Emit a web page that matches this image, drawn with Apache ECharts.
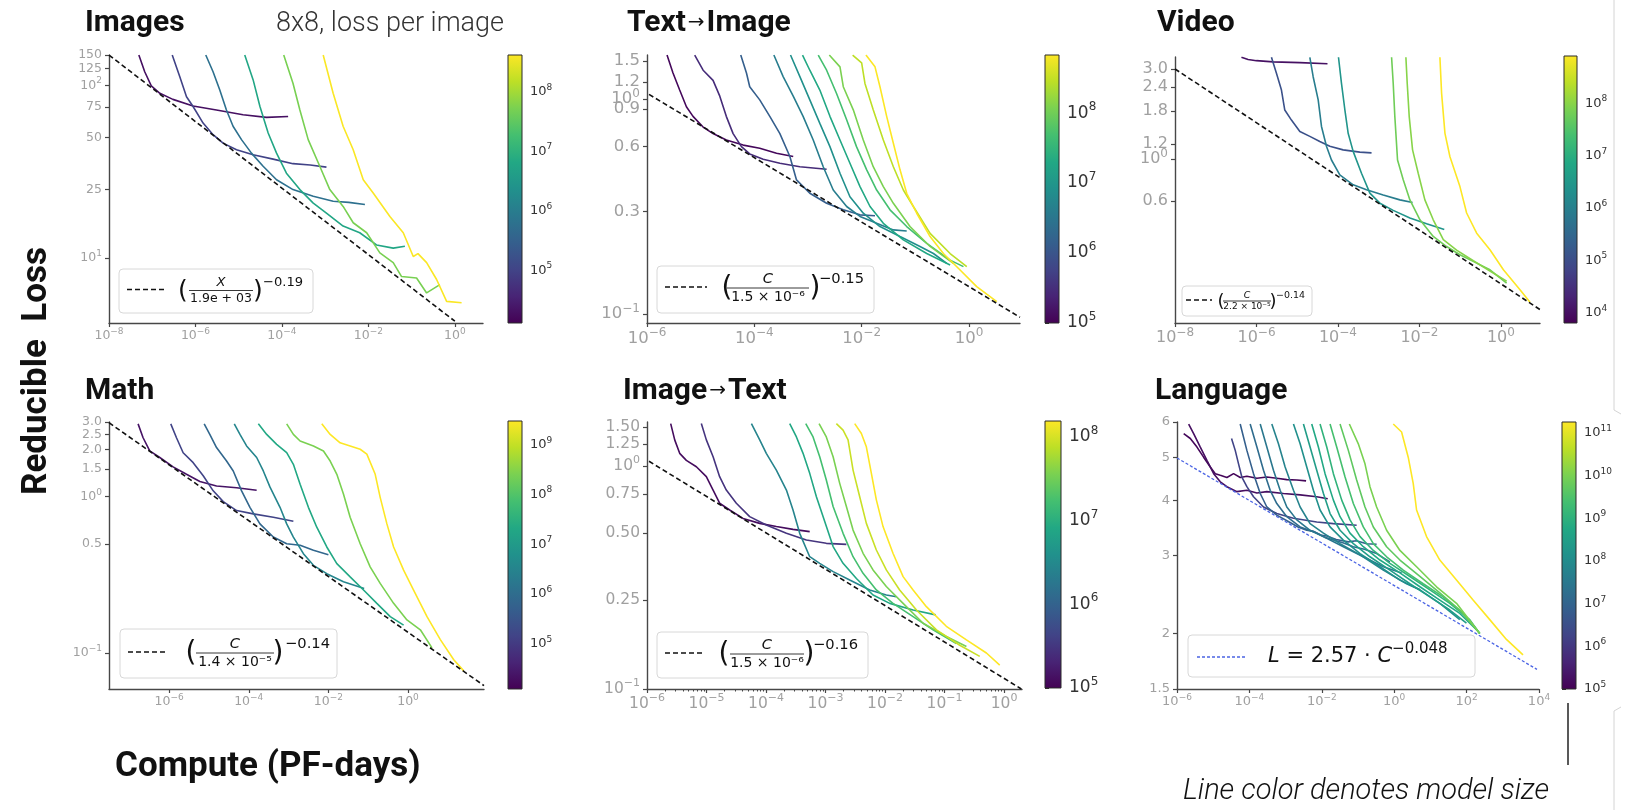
<!DOCTYPE html>
<html>
<head>
<meta charset="utf-8">
<title>Reducible loss vs compute</title>
<script src="https://cdn.jsdelivr.net/npm/echarts@6/dist/echarts.min.js"></script>
<style>
  html, body { margin: 0; padding: 0; background: #fff; }
  #chart { width: 1637px; height: 810px; }
</style>
</head>
<body>
<div id="chart"></div>
<script>
// every run is a list of [compute (PF-days), reducible loss]; sizes are parameter counts

// ---- Images ----
const imagesSizes = [2e4, 1e5, 6e5, 6e6, 5e7, 4e8];
const imagesRuns = [
  [[4.9e-8,150],[6.7e-8,120],[9.5e-8,99.5],[1.5e-7,90],[3.0e-7,83],[8.8e-7,76],[3.05e-6,72],[1.26e-5,67.6],[4.4e-5,65.3],[1.39e-4,66]],
  [[2.9e-7,150],[4.3e-7,113],[6.2e-7,86],[8.8e-7,75.5],[1.5e-6,60.5],[2.55e-6,51.8],[4.35e-6,46.3],[8.9e-6,42.4],[2.15e-5,39.6],[6.25e-5,37.4],[1.8e-4,35.2],[4.5e-4,34.6],[1.07e-3,33.6]],
  [[1.73e-6,150],[2.55e-6,120],[3.65e-6,94],[5.2e-6,72],[7.4e-6,58],[1.16e-5,48.5],[1.97e-5,40.5],[3.67e-5,34],[7.5e-5,28.4],[1.8e-4,24.9],[5.3e-4,22.8],[1.53e-3,21.3],[3.5e-3,21.0],[8.3e-3,20.4]],
  [[1.38e-5,150],[2.15e-5,108],[3.1e-5,75.5],[4.8e-5,53],[7.5e-5,40.5],[1.27e-4,31],[2.6e-4,24.9],[5.3e-4,20.8],[1.07e-3,18.2],[2.6e-3,15.3],[6.3e-3,14.0],[1.54e-2,11.9],[3.75e-2,11.4],[6.98e-2,11.7]],
  [[1.1e-4,150],[1.8e-4,103],[2.6e-4,72],[4.05e-4,48.5],[7.5e-4,34],[1.28e-3,24.9],[2.6e-3,19.9],[4.45e-3,16.0],[9.1e-3,14.0],[1.84e-2,10.7],[3.75e-2,9.4],[5.85e-2,7.8],[0.13,7.65],[0.222,6.27],[0.45,7.0]],
  [[9.0e-4,150],[1.53e-3,90],[2.6e-3,58],[4.45e-3,42.4],[7.6e-3,28.4],[1.29e-2,23.8],[3.14e-2,17.4],[6.4e-2,14.0],[0.109,10.2],[0.14,10.6],[0.222,9.4],[0.378,7.5],[0.644,5.6],[1.43,5.5]]
];
const imagesFit = [[1e-8, 150], [1.0, 4.3]];
const imagesXTicks = [1e-8, 1e-6, 1e-4, 1e-2, 1];
const imagesYTicks = [150, 125, 100, 75, 50, 25, 10];
const imagesYLabels = ['150', '125', '10²', '75', '50', '25', '10¹'];
const imagesBar = [1.29e4, 4.17e8];
const imagesBarTicks = [1e5, 1e6, 1e7, 1e8];

// ---- Text -> Image ----
const t2iSizes = [1.2e5, 3e5, 1.4e6, 4e6, 8e6, 2e7, 4.8e7, 1.15e8, 2.8e8, 6.7e8];
const t2iRuns = [
  [[2.36e-6,1.6],[3.05e-6,1.32],[4.06e-6,1.10],[5.42e-6,0.92],[7.2e-6,0.83],[1.11e-5,0.74],[1.70e-5,0.69],[3.0e-5,0.644],[6.2e-5,0.61],[1.26e-4,0.59],[2.59e-4,0.559],[5.3e-4,0.54]],
  [[7.74e-6,1.6],[1.11e-5,1.36],[1.70e-5,1.22],[2.27e-5,1.03],[3.0e-5,0.83],[4.02e-5,0.69],[5.75e-5,0.60],[8.2e-5,0.555],[1.46e-4,0.524],[2.99e-4,0.502],[7.05e-4,0.484],[2.22e-3,0.471]],
  [[5.58e-5,1.6],[7.13e-5,1.32],[8.2e-5,1.14],[1.26e-4,0.99],[1.94e-4,0.83],[2.99e-4,0.69],[4.59e-4,0.54],[6.1e-4,0.42],[1.08e-3,0.364],[2.22e-3,0.327],[4.54e-3,0.305],[9.3e-3,0.289],[1.77e-2,0.286]],
  [[2.31e-4,1.6],[3.44e-4,1.27],[5.3e-4,1.03],[8.1e-4,0.83],[1.25e-3,0.644],[1.92e-3,0.484],[2.95e-3,0.377],[5.24e-3,0.316],[9.3e-3,0.284],[1.90e-2,0.264],[3.89e-2,0.246],[6.9e-2,0.243]],
  [[4.72e-4,1.6],[7.05e-4,1.27],[1.08e-3,0.99],[1.66e-3,0.77],[2.56e-3,0.60],[3.94e-3,0.451],[6.04e-3,0.351],[1.07e-2,0.294],[2.19e-2,0.255],[5.18e-2,0.229],[0.122,0.206],[0.217,0.191],[0.385,0.172]],
  [[7.9e-4,1.6],[1.08e-3,1.36],[1.66e-3,1.10],[2.56e-3,0.83],[3.94e-3,0.644],[6.04e-3,0.502],[9.3e-3,0.391],[1.43e-2,0.316],[2.53e-2,0.264],[5.97e-2,0.221],[0.163,0.191],[0.444,0.169]],
  [[1.55e-3,1.6],[2.22e-3,1.36],[3.40e-3,1.06],[5.24e-3,0.80],[8.0e-3,0.60],[1.24e-2,0.468],[1.90e-2,0.377],[3.37e-2,0.305],[6.9e-2,0.255],[0.163,0.213],[0.444,0.178],[0.787,0.166]],
  [[2.49e-3,1.6],[3.94e-3,1.41],[4.54e-3,1.14],[6.97e-3,0.89],[1.07e-2,0.644],[1.64e-2,0.484],[2.53e-2,0.391],[3.89e-2,0.327],[7.94e-2,0.255],[0.188,0.206],[0.512,0.172]],
  [[6.78e-3,1.6],[9.98e-3,1.47],[1.15e-2,1.18],[1.64e-2,0.89],[2.53e-2,0.644],[3.89e-2,0.484],[5.97e-2,0.377],[9.18e-2,0.316],[0.188,0.237],[0.444,0.191],[0.908,0.166]],
  [[1.20e-2,1.6],[1.77e-2,1.41],[2.19e-2,1.14],[2.92e-2,0.83],[3.89e-2,0.622],[5.18e-2,0.468],[6.9e-2,0.364],[0.106,0.294],[0.188,0.229],[0.333,0.191],[0.681,0.160],[1.39,0.134],[3.29,0.114]]
];
const t2iFit = [[1.09e-6, 1.05], [8.9, 0.0965]];
const t2iXTicks = [1e-6, 1e-4, 1e-2, 1];
const t2iYTicks = [1.5, 1.2, 1.0, 0.9, 0.6, 0.3, 0.1];
const t2iYLabels = ['1.5', '1.2', '10⁰', '0.9', '0.6', '0.3', '10⁻¹'];
const t2iBar = [1e5, 6.76e8];
const t2iBarTicks = [1e5, 1e6, 1e7, 1e8];

// ---- Video ----
const videoSizes = [1.1e4, 1.2e5, 9e5, 2.8e6, 6e7, 9.6e7, 8e8];
const videoRuns = [
  [[4.27e-7,3.46],[6.22e-7,3.37],[9.95e-7,3.32],[2.56e-6,3.27],[1.16e-5,3.24],[5.53e-5,3.20]],
  [[2.33e-6,3.46],[3.09e-6,2.85],[4.10e-6,2.32],[4.95e-6,1.82],[7.21e-6,1.61],[1.16e-5,1.40],[2.04e-5,1.32],[3.58e-5,1.24],[6.31e-5,1.17],[1.34e-4,1.12],[3.44e-4,1.09],[6.67e-4,1.08]],
  [[2.04e-5,3.46],[2.46e-5,2.73],[3.27e-5,2.06],[3.94e-5,1.49],[5.22e-5,1.17],[6.93e-5,0.99],[1.11e-4,0.826],[2.36e-4,0.732],[5.02e-4,0.689],[1.29e-3,0.647],[3.31e-3,0.609],[6.78e-3,0.590]],
  [[1.03e-4,3.46],[1.22e-4,2.52],[1.48e-4,1.82],[1.78e-4,1.37],[2.36e-4,1.10],[3.78e-4,0.843],[6.07e-4,0.661],[1.07e-3,0.585],[2.27e-3,0.536],[5.83e-3,0.488],[1.50e-2,0.455],[4.07e-2,0.424]],
  [[2.07e-3,3.46],[2.27e-3,2.52],[2.49e-3,1.68],[2.90e-3,0.99],[4.00e-3,0.778],[5.83e-3,0.609],[1.03e-2,0.478],[2.18e-2,0.390],[4.65e-2,0.345],[9.86e-2,0.312],[0.254,0.282],[0.538,0.260],[1.38,0.221]],
  [[4.65e-3,3.46],[5.01e-3,2.52],[5.61e-3,1.68],[6.78e-3,1.12],[9.33e-3,0.843],[1.36e-2,0.609],[2.18e-2,0.478],[3.85e-2,0.375],[8.17e-2,0.33],[0.210,0.29],[0.538,0.256],[1.38,0.226]],
  [[3.18e-2,3.46],[3.50e-2,2.23],[4.23e-2,1.37],[5.61e-2,1.03],[9.86e-2,0.716],[0.144,0.519],[0.254,0.406],[0.538,0.332],[1.15,0.260],[2.94,0.204],[5.18,0.175]]
];
const videoFit = [[1e-8, 3.0], [9.1, 0.16]];
const videoXTicks = [1e-8, 1e-6, 1e-4, 1e-2, 1];
const videoYTicks = [3.0, 2.4, 1.8, 1.2, 1.0, 0.6];
const videoYLabels = ['3.0', '2.4', '1.8', '1.2', '10⁰', '0.6'];
const videoBar = [6.46e3, 7.94e8];
const videoBarTicks = [1e4, 1e5, 1e6, 1e7, 1e8];

// ---- Math ----
const mathSizes = [2.3e4, 1.5e5, 7.4e5, 3.3e6, 2.1e7, 2.5e8, 3e9];
const mathRuns = [
  [[1.66e-7,2.92],[2.22e-7,2.38],[3.26e-7,1.96],[5.82e-7,1.78],[1.26e-6,1.55],[2.73e-6,1.39],[5.92e-6,1.25],[1.55e-5,1.17],[4.95e-5,1.14],[1.58e-4,1.10]],
  [[1.10e-6,2.92],[1.53e-6,2.38],[2.25e-6,1.91],[4.02e-6,1.65],[7.18e-6,1.36],[1.28e-5,1.09],[2.29e-5,0.93],[4.95e-5,0.815],[1.30e-4,0.776],[4.14e-4,0.739],[1.32e-3,0.697]],
  [[7.60e-6,2.92],[1.05e-5,2.50],[1.55e-5,2.06],[2.77e-5,1.69],[4.08e-5,1.46],[6.61e-5,1.09],[1.07e-4,0.855],[1.91e-4,0.670],[4.14e-4,0.552],[8.97e-4,0.500],[1.95e-3,0.489],[4.21e-3,0.454],[1.00e-2,0.426]],
  [[4.33e-5,2.92],[6.01e-5,2.50],[8.83e-5,2.11],[1.58e-4,1.78],[2.32e-4,1.46],[3.42e-4,1.15],[6.10e-4,0.855],[8.97e-4,0.670],[1.32e-3,0.552],[2.36e-3,0.432],[4.21e-3,0.364],[9.12e-3,0.322],[2.39e-2,0.286],[7.93e-2,0.259]],
  [[1.74e-4,2.92],[2.82e-4,2.50],[5.02e-4,2.16],[8.97e-4,1.91],[1.32e-3,1.61],[1.95e-3,1.20],[3.15e-3,0.855],[5.11e-3,0.638],[9.12e-3,0.477],[1.63e-2,0.373],[3.52e-2,0.307],[7.64e-2,0.253],[0.165,0.208],[0.358,0.171],[0.775,0.151]],
  [[8.97e-4,2.92],[1.32e-3,2.50],[1.95e-3,2.27],[4.21e-3,2.11],[7.52e-3,1.96],[1.11e-2,1.69],[1.63e-2,1.39],[2.39e-2,1.04],[3.52e-2,0.739],[6.29e-2,0.500],[0.112,0.356],[0.200,0.279],[0.435,0.208],[0.940,0.163],[2.04,0.141],[4.00,0.108]],
  [[6.82e-3,2.92],[1.11e-2,2.50],[1.97e-2,2.21],[3.52e-2,2.11],[6.29e-2,2.01],[9.25e-2,1.87],[0.150,1.39],[0.200,0.99],[0.295,0.670],[0.435,0.477],[0.775,0.339],[1.38,0.253],[3.00,0.171],[6.49,0.122],[14.1,0.0907],[25.1,0.077]]
];
const mathFit = [[3.09e-8, 2.97], [81, 0.062]];
const mathXTicks = [1e-6, 1e-4, 1e-2, 1];
const mathYTicks = [3.0, 2.5, 2.0, 1.5, 1.0, 0.5, 0.1];
const mathYLabels = ['3.0', '2.5', '2.0', '1.5', '10⁰', '0.5', '10⁻¹'];
const mathBar = [1.23e4, 3.02e9];
const mathBarTicks = [1e5, 1e6, 1e7, 1e8, 1e9];

// ---- Image -> Text ----
const i2tSizes = [1.25e5, 3e5, 2.7e6, 8e6, 1.7e7, 3.5e7, 8.5e7, 1.55e8];
const i2tRuns = [
  [[2.50e-6,1.55],[2.92e-6,1.31],[3.54e-6,1.14],[4.58e-6,1.06],[6.75e-6,0.993],[9.93e-6,0.896],[1.29e-5,0.780],[1.66e-5,0.681],[2.45e-5,0.635],[4.10e-5,0.582],[7.83e-5,0.553],[1.49e-4,0.535],[2.84e-4,0.520],[5.42e-4,0.508]],
  [[8.18e-6,1.55],[9.93e-6,1.31],[1.29e-5,1.10],[1.66e-5,0.896],[2.15e-5,0.780],[3.17e-5,0.681],[5.31e-5,0.593],[1.01e-4,0.544],[2.20e-4,0.499],[4.76e-4,0.466],[1.03e-3,0.450],[2.24e-3,0.445]],
  [[5.68e-5,1.55],[7.83e-5,1.31],[1.01e-4,1.14],[1.49e-4,0.959],[2.20e-4,0.780],[2.84e-4,0.635],[3.68e-4,0.499],[5.42e-4,0.392],[7.98e-4,0.366],[1.34e-3,0.336],[2.55e-3,0.308],[5.52e-3,0.278],[1.05e-2,0.264],[1.55e-2,0.259]],
  [[2.50e-4,1.55],[3.24e-4,1.35],[4.19e-4,1.14],[5.42e-4,0.927],[7.02e-4,0.728],[9.08e-4,0.593],[1.34e-3,0.435],[1.97e-3,0.366],[3.30e-3,0.313],[6.28e-3,0.264],[1.20e-2,0.242],[2.96e-2,0.226],[7.11e-2,0.215]],
  [[4.65e-4,1.55],[6.17e-4,1.35],[7.98e-4,1.10],[1.03e-3,0.865],[1.34e-3,0.658],[1.97e-3,0.499],[2.90e-3,0.392],[4.27e-3,0.330],[7.14e-3,0.278],[1.36e-2,0.242],[2.96e-2,0.211],[6.41e-2,0.184],[0.158,0.160]],
  [[7.78e-4,1.55],[1.03e-3,1.35],[1.34e-3,1.10],[1.73e-3,0.836],[2.24e-3,0.658],[2.90e-3,0.516],[4.27e-3,0.406],[6.28e-3,0.342],[1.05e-2,0.288],[2.01e-2,0.242],[4.36e-2,0.197],[0.107,0.172],[0.233,0.155]],
  [[1.52e-3,1.55],[1.97e-3,1.45],[2.39e-3,1.31],[2.90e-3,0.959],[3.75e-3,0.728],[4.85e-3,0.553],[7.14e-3,0.420],[1.05e-2,0.342],[1.76e-2,0.278],[3.37e-2,0.226],[7.30e-2,0.184],[0.180,0.157],[0.390,0.140]],
  [[3.09e-3,1.55],[4.00e-3,1.40],[4.85e-3,1.22],[5.89e-3,0.927],[7.14e-3,0.705],[9.25e-3,0.535],[1.36e-2,0.406],[2.01e-2,0.319],[2.96e-2,0.278],[4.95e-2,0.234],[0.107,0.191],[0.233,0.166],[0.505,0.145],[0.845,0.128]]
];
const i2tFit = [[1.08e-6, 1.05], [1.95, 0.1]];
const i2tXTicks = [1e-6, 1e-5, 1e-4, 1e-3, 1e-2, 1e-1, 1];
const i2tYTicks = [1.5, 1.25, 1.0, 0.75, 0.5, 0.25, 0.1];
const i2tYLabels = ['1.50', '1.25', '10⁰', '0.75', '0.50', '0.25', '10⁻¹'];
const i2tBar = [1e5, 1.55e8];
const i2tBarTicks = [1e5, 1e6, 1e7, 1e8];

// ---- Language ----
const langSizes = [1.3e5, 1.8e5, 1.8e6, 8e6, 1.6e7, 3e7, 6e7, 1.3e8, 2.8e8, 5.6e8, 1.1e9, 2.5e9, 5e9, 1e10, 1.8e11];
const langRuns = [
  [[1.53e-6,5.65],[2.33e-6,5.51],[3.56e-6,5.27],[5.43e-6,5.00],[8.30e-6,4.75],[1.14e-5,4.59],[1.57e-5,4.55],[2.39e-5,4.50],[3.65e-5,4.59],[5.57e-5,4.50],[8.51e-5,4.53],[1.61e-4,4.48],[3.03e-4,4.51],[5.71e-4,4.48],[1.08e-3,4.45],[2.04e-3,4.44],[3.68e-3,4.42]],
  [[2.10e-6,5.94],[2.88e-6,5.65],[4.40e-6,5.27],[6.71e-6,4.92],[1.03e-5,4.59],[1.57e-5,4.40],[2.39e-5,4.29],[4.51e-5,4.18],[8.51e-5,4.21],[1.61e-4,4.15],[3.03e-4,4.18],[8.73e-4,4.14],[2.52e-3,4.11],[7.24e-3,4.07],[1.46e-2,4.03]],
  [[3.21e-5,5.51],[4.06e-5,5.18],[5.01e-5,4.83],[6.19e-5,4.51],[8.51e-5,4.29],[1.30e-4,4.07],[2.45e-4,3.86],[5.71e-4,3.73],[1.65e-3,3.64],[7.24e-3,3.57],[2.09e-2,3.54],[9.18e-2,3.51]],
  [[5.57e-5,5.94],[8.51e-5,5.18],[1.30e-4,4.59],[1.99e-4,4.14],[3.03e-4,3.86],[5.71e-4,3.70],[1.33e-3,3.56],[2.2e-3,3.48],[3.84e-3,3.42],[6.0e-3,3.40],[1.0e-2,3.33],[1.37e-2,3.32],[2.5e-2,3.26],[5.41e-2,3.22],[9.0e-2,3.24],[0.173,3.19],[0.327,3.18]],
  [[1.05e-4,5.94],[1.61e-4,5.27],[2.45e-4,4.67],[3.75e-4,4.21],[5.71e-4,3.93],[1.08e-3,3.67],[2.52e-3,3.48],[4.5e-3,3.42],[7.24e-3,3.37],[1.2e-2,3.30],[2.09e-2,3.25],[4.0e-2,3.20],[7.43e-2,3.14],[0.15,3.10],[0.327,3.03],[0.762,2.90]],
  [[1.99e-4,5.94],[3.03e-4,5.27],[4.62e-4,4.67],[7.06e-4,4.21],[1.08e-3,3.86],[2.04e-3,3.61],[4.74e-3,3.42],[1.37e-2,3.28],[3.94e-2,3.14],[0.140,2.98],[0.500,2.83],[1.60,2.74]],
  [[4.16e-4,5.94],[6.35e-4,5.36],[9.70e-4,4.75],[1.65e-3,4.21],[2.52e-3,3.86],[4.74e-3,3.54],[1.11e-2,3.37],[3.19e-2,3.19],[0.114,3.01],[0.500,2.78],[2.20,2.59],[5.13,2.51]],
  [[1.65e-3,5.94],[2.52e-3,5.36],[3.84e-3,4.75],[5.86e-3,4.21],[8.95e-3,3.80],[1.69e-2,3.48],[3.94e-2,3.25],[0.114,3.03],[0.404,2.83],[1.44,2.64],[5.13,2.51],[18.2,2.34],[64.9,2.15]],
  [[3.11e-3,5.94],[4.74e-3,5.27],[7.24e-3,4.67],[1.11e-2,4.14],[1.69e-2,3.73],[3.19e-2,3.42],[7.43e-2,3.19],[0.214,2.98],[0.762,2.78],[2.72,2.59],[9.66,2.42],[34.4,2.26],[99.1,2.11]],
  [[5.27e-3,5.94],[8.05e-3,5.27],[1.23e-2,4.59],[2.09e-2,4.00],[3.19e-2,3.67],[6.01e-2,3.37],[0.140,3.14],[0.404,2.93],[1.44,2.74],[5.13,2.55],[18.2,2.38],[64.9,2.22],[187,2.04]],
  [[8.95e-3,5.94],[1.37e-2,5.27],[2.09e-2,4.59],[3.55e-2,4.00],[6.01e-2,3.61],[0.114,3.31],[0.265,3.08],[0.762,2.88],[2.72,2.69],[9.66,2.51],[34.4,2.34],[122,2.15],[231,2.00]],
  [[1.69e-2,5.94],[2.58e-2,5.27],[4.39e-2,4.51],[7.43e-2,3.93],[0.140,3.48],[0.265,3.19],[0.617,2.98],[1.78,2.78],[6.32,2.59],[22.5,2.42],[80.2,2.22],[231,2.00]],
  [[3.19e-2,5.94],[5.41e-2,5.18],[9.18e-2,4.44],[0.156,3.86],[0.265,3.48],[0.617,3.14],[1.44,2.93],[5.13,2.69],[18.2,2.47],[64.9,2.26],[231,2.00]],
  [[5.77e-2,5.94],[0.102,5.36],[0.156,4.83],[0.214,4.29],[0.327,3.86],[0.617,3.42],[1.44,3.08],[4.15,2.83],[14.8,2.55],[52.6,2.34],[231,2.00]],
  [[0.942,5.94],[1.60,5.70],[2.44,5.00],[3.36,4.36],[4.15,3.80],[7.82,3.31],[18.2,2.93],[52.6,2.64],[151,2.38],[436,2.15],[1260,1.94],[3620,1.79]]
];
const langFit = [[1e-6, 4.98], [8810, 1.66]];
const langXTicks = [1e-6, 1e-4, 1e-2, 1, 1e2, 1e4];
const langYTicks = [6, 5, 4, 3, 2, 1.5];
const langYLabels = ['6', '5', '4', '3', '2', '1.5'];
const langBar = [1e5, 1.82e11];
const langBarTicks = [1e5, 1e6, 1e7, 1e8, 1e9, 1e10, 1e11];

// ---- helpers ----
const viridisStops = ['#440154','#482475','#414487','#355f8d','#2a788e','#21918c','#22a884','#44bf70','#7ad151','#bddf26','#fde725'];
const SUP = { '-': '⁻', '0': '⁰', '1': '¹', '2': '²', '3': '³', '4': '⁴', '5': '⁵', '6': '⁶', '7': '⁷', '8': '⁸', '9': '⁹' };
const UNSUP = {};
Object.keys(SUP).forEach(k => { UNSUP[SUP[k]] = k === '-' ? '−' : k; });

function pow10Label(v) {
  const e = Math.round(Math.log10(v));
  return '10' + String(e).split('').map(c => SUP[c]).join('');
}
// '10⁻⁴' -> rich text with a raised, smaller exponent
function richLabel(s) {
  const m = s.match(/^10([⁻⁰¹²³⁴⁵⁶⁷⁸⁹]+)$/);
  if (!m) return '{b|' + s + '}';
  return '{b|10}{s|' + m[1].split('').map(c => UNSUP[c]).join('') + '}';
}
function richStyles(fontSize, color) {
  return {
    b: { fontSize, fontFamily: 'DejaVu Sans', color, lineHeight: Math.round(fontSize * 1.4) },
    s: { fontSize: Math.round(fontSize * 0.72), fontFamily: 'DejaVu Sans', color, lineHeight: Math.round(fontSize * 0.7), verticalAlign: 'top' }
  };
}
function nearest(ticks, v) {
  let best = 0, d = Infinity;
  ticks.forEach((t, i) => {
    const e = Math.abs(Math.log10(t) - Math.log10(v));
    if (e < d) { d = e; best = i; }
  });
  return best;
}
function hexRgb(h) { return [1, 3, 5].map(i => parseInt(h.substr(i, 2), 16)); }
function viridis(f) {
  f = Math.max(0, Math.min(1, f));
  const s = f * (viridisStops.length - 1), i = Math.min(Math.floor(s), viridisStops.length - 2), t = s - i;
  const a = hexRgb(viridisStops[i]), b = hexRgb(viridisStops[i + 1]);
  return 'rgb(' + a.map((c, k) => Math.round(c + (b[k] - c) * t)).join(',') + ')';
}
function sizeColor(size, bar) {
  return viridis((Math.log10(size) - Math.log10(bar[0])) / (Math.log10(bar[1]) - Math.log10(bar[0])));
}
function pad(r) { return [r[0] * 0.9995, r[1] * 1.0005]; }
function minorValues(r) {
  const out = [];
  for (let k = Math.floor(Math.log10(r[0])); k <= Math.ceil(Math.log10(r[1])); k++) {
    for (let m = 2; m <= 9; m++) {
      const v = m * Math.pow(10, k);
      if (v > r[0] && v < r[1]) out.push(v);
    }
  }
  return out;
}

// ticks: where tick marks go; labelTicks/labels: which of them carry text
function logAxis(dim, gridIndex, range, ticks, labelTicks, labels, fontSize, showLine) {
  const r = pad(range);
  const lineOn = showLine !== false;
  return {
    type: 'log', logBase: 10, gridIndex, min: r[0], max: r[1],
    position: dim === 'x' ? 'bottom' : 'left',
    axisLine: { show: lineOn, lineStyle: { color: '#474747', width: 1.4 } },
    axisTick: { show: lineOn, customValues: ticks, length: 4, lineStyle: { color: '#474747', width: 1.2 } },
    axisLabel: {
      show: true, customValues: labelTicks, formatter: v => richLabel(labels[nearest(labelTicks, v)]),
      rich: richStyles(fontSize, '#a0a0a0'), color: '#a0a0a0',
      showMinLabel: true, showMaxLabel: true, hideOverlap: false,
      margin: dim === 'x' ? 4 : 7
    },
    splitLine: { show: false }
  };
}
function minorAxis(dim, gridIndex, range) {
  const r = pad(range);
  return {
    type: 'log', logBase: 10, gridIndex, min: r[0], max: r[1],
    position: dim === 'x' ? 'bottom' : 'right',
    axisLine: { show: false },
    axisTick: { show: true, customValues: minorValues(range), length: 2.5, lineStyle: { color: '#474747', width: 1 } },
    axisLabel: { show: false },
    splitLine: { show: false }
  };
}
function barAxis(gridIndex, range, ticks, fontSize) {
  const r = pad(range);
  return {
    type: 'log', logBase: 10, gridIndex, min: r[0], max: r[1], position: 'right',
    axisLine: { show: false },
    axisTick: { show: true, customValues: ticks, length: 4, lineStyle: { color: '#333', width: 1 } },
    axisLabel: {
      show: true, customValues: ticks, formatter: v => richLabel(pow10Label(v)),
      rich: richStyles(fontSize, '#333'), color: '#333',
      showMinLabel: true, showMaxLabel: true, hideOverlap: false, margin: 8
    },
    splitLine: { show: false }
  };
}

const blackDash = { color: '#111', width: 1.6, type: [5, 3] };
const panels = [
  { runs: imagesRuns, sizes: imagesSizes, fit: imagesFit, fitStyle: blackDash,
    xRange: [1e-8, 4.47], yRange: [4.2, 150], xTicks: imagesXTicks, yTicks: imagesYTicks, yLabels: imagesYLabels,
    bar: imagesBar, barTicks: imagesBarTicks, font: 12.5, cbFont: 13,
    grid: { left: 109, top: 55, width: 374, height: 268 }, cbar: { left: 508, top: 55, width: 14, height: 268 } },
  { runs: t2iRuns, sizes: t2iSizes, fit: t2iFit, fitStyle: blackDash,
    xRange: [1e-6, 8.9], yRange: [0.0908, 1.6], xTicks: t2iXTicks, yTicks: t2iYTicks, yLabels: t2iYLabels,
    bar: t2iBar, barTicks: t2iBarTicks, font: 16.5, cbFont: 17,
    grid: { left: 647, top: 55, width: 373, height: 268 }, cbar: { left: 1045, top: 55, width: 14, height: 268 } },
  { runs: videoRuns, sizes: videoSizes, fit: videoFit, fitStyle: blackDash,
    xRange: [1e-8, 9.1], yRange: [0.136, 3.47], xTicks: videoXTicks, yTicks: videoYTicks, yLabels: videoYLabels,
    bar: videoBar, barTicks: videoBarTicks, font: 16, cbFont: 13,
    grid: { left: 1175, top: 57, width: 365, height: 266 }, cbar: { left: 1564, top: 56, width: 13, height: 267 } },
  { runs: mathRuns, sizes: mathSizes, fit: mathFit, fitStyle: blackDash, yTwin: [3.0],
    xRange: [3.09e-8, 81], yRange: [0.059, 3.0], xTicks: mathXTicks, yTicks: mathYTicks, yLabels: mathYLabels,
    bar: mathBar, barTicks: mathBarTicks, font: 12.5, cbFont: 13,
    grid: { left: 109, top: 422, width: 375, height: 267 }, cbar: { left: 508, top: 421, width: 14, height: 268 } },
  { runs: i2tRuns, sizes: i2tSizes, fit: i2tFit, fitStyle: blackDash, xMinor: true,
    xRange: [1e-6, 2.0], yRange: [0.1, 1.575], xTicks: i2tXTicks, yTicks: i2tYTicks, yLabels: i2tYLabels,
    bar: i2tBar, barTicks: i2tBarTicks, font: 15.5, cbFont: 17,
    grid: { left: 647, top: 422, width: 375, height: 267 }, cbar: { left: 1045, top: 421, width: 16, height: 267 } },
  { runs: langRuns, sizes: langSizes, fit: langFit, fitStyle: { color: '#4b64e4', width: 1.3, type: [3, 2] },
    xRange: [1e-6, 1e4], yRange: [1.5, 6], xTicks: langXTicks, yTicks: langYTicks, yLabels: langYLabels,
    bar: langBar, barTicks: langBarTicks, font: 13, cbFont: 13,
    grid: { left: 1177, top: 422, width: 362, height: 267 }, cbar: { left: 1562, top: 422, width: 14, height: 267 } }
];

const grids = [], xAxes = [], yAxes = [], series = [];
const barGradient = () => new echarts.graphic.LinearGradient(0, 1, 0, 0,
  viridisStops.map((c, i) => ({ offset: i / (viridisStops.length - 1), color: c })));

panels.forEach(p => {
  const gi = grids.length;
  const twin = p.yTwin || [];
  const isTwin = v => twin.some(t => Math.abs(t - v) < 1e-9);
  const mainY = p.yTicks.filter(v => !isTwin(v));
  const mainYLabels = p.yLabels.filter((s, i) => !isTwin(p.yTicks[i]));
  grids.push(p.grid);
  xAxes.push(logAxis('x', gi, p.xRange, p.xTicks, p.xTicks, p.xTicks.map(pow10Label), p.font));
  yAxes.push(logAxis('y', gi, p.yRange, p.yTicks, mainY, mainYLabels, p.font));
  p.runs.forEach((run, k) => series.push({
    type: 'line', xAxisIndex: gi, yAxisIndex: gi, data: run, symbol: 'none', silent: true, z: 2,
    lineStyle: { color: sizeColor(p.sizes[k], p.bar), width: 1.6 }
  }));
  series.push({
    type: 'line', xAxisIndex: gi, yAxisIndex: gi, data: p.fit, symbol: 'none', silent: true, z: 3,
    lineStyle: p.fitStyle
  });

  // labels that sit too close to a neighbour go on a twin axis so none get dropped
  if (twin.length) {
    const ti = grids.length;
    grids.push(p.grid);
    xAxes.push({ type: 'value', gridIndex: ti, show: false });
    yAxes.push(logAxis('y', ti, p.yRange, twin, twin, p.yLabels.filter((s, i) => isTwin(p.yTicks[i])), p.font, false));
  }

  if (p.xMinor) {
    const mi = grids.length;
    grids.push(p.grid);
    xAxes.push(minorAxis('x', mi, p.xRange));
    yAxes.push({ type: 'value', gridIndex: mi, show: false });
  }

  // colour bar: one rect spanning the size range on a log axis
  const ci = grids.length;
  grids.push(p.cbar);
  xAxes.push({ type: 'value', gridIndex: ci, min: 0, max: 1, show: false });
  yAxes.push(barAxis(ci, p.bar, p.barTicks, p.cbFont));
  series.push({
    type: 'custom', xAxisIndex: ci, yAxisIndex: ci, silent: true,
    data: [[0, p.bar[0], p.bar[1]]], encode: { x: 0, y: [1, 2] },
    renderItem: (params, api) => {
      const lo = api.coord([0, api.value(1)]);
      const hi = api.coord([1, api.value(2)]);
      return {
        type: 'rect',
        shape: { x: lo[0], y: hi[1], width: hi[0] - lo[0], height: lo[1] - hi[1] },
        style: { fill: barGradient(), stroke: '#2b2b2b', lineWidth: 1 }
      };
    }
  });
  const cm = grids.length;
  grids.push(p.cbar);
  xAxes.push({ type: 'value', gridIndex: cm, min: 0, max: 1, show: false });
  yAxes.push(minorAxis('y', cm, p.bar));
});

// ---- text, legends ----
const FONT = '"DejaVu Sans"';
function txt(text, x, y, font, align, extra) {
  return Object.assign({
    type: 'text', x, y, z: 100, silent: true,
    style: { text, font, fill: '#111', align: align || 'left', verticalAlign: 'middle' }
  }, extra || {});
}
function arrowTitle(text, x, y) {
  return {
    type: 'text', x, y, z: 100, silent: true,
    style: {
      text, font: 'bold 30px Roboto, sans-serif', fill: '#111', verticalAlign: 'middle',
      rich: {
        w: { fontSize: 30, fontWeight: 'bold', fontFamily: 'Roboto', fill: '#111', lineHeight: 36 },
        a: { fontSize: 20, fontWeight: 'normal', fontFamily: 'DejaVu Sans', fill: '#111', lineHeight: 36, padding: [0, 2, 0, 2] }
      }
    }
  };
}
function fracLegend(c) {
  const fs = c.fs;
  return [
    { type: 'rect', z: 100, silent: true, shape: { x: c.box[0], y: c.box[1], width: c.box[2], height: c.box[3], r: 4 },
      style: { fill: 'rgba(255,255,255,0.9)', stroke: '#d8d8d8', lineWidth: 1 } },
    { type: 'line', z: 101, silent: true, shape: { x1: c.line[0], y1: c.line[2], x2: c.line[1], y2: c.line[2] },
      style: { stroke: '#111', lineWidth: 1.6, lineDash: [5, 3] } },
    txt('(', c.lp, c.by + 1, `${fs * 2}px ${FONT}`, 'center', { z: 101 }),
    txt(c.num, c.cx, c.by - fs * 0.62, `italic ${fs * 1.05}px ${FONT}`, 'center', { z: 101 }),
    { type: 'line', z: 101, silent: true, shape: { x1: c.cx - c.bw, y1: c.by, x2: c.cx + c.bw, y2: c.by },
      style: { stroke: '#222', lineWidth: 0.9 } },
    txt(c.den, c.cx, c.by + fs * 0.68, `${fs}px ${FONT}`, 'center', { z: 101 }),
    txt(')', c.rp, c.by + 1, `${fs * 2}px ${FONT}`, 'center', { z: 101 }),
    txt(c.exp, c.ex, c.by - fs * 0.62, `${fs * 1.05}px ${FONT}`, 'left', { z: 101 })
  ];
}

const TITLE = 'bold 30px Roboto, "DejaVu Sans", sans-serif';
const elements = [
  txt('Images', 85, 23, TITLE),
  { type: 'text', x: 276, y: 24, z: 100, silent: true,
    style: { text: '8x8, loss per image', font: '300 27px Roboto, sans-serif', fill: '#333', verticalAlign: 'middle' } },
  arrowTitle('{w|Text}{a|→}{w|Image}', 627, 23),
  txt('Video', 1157, 23, TITLE),
  txt('Math', 85, 391, TITLE),
  arrowTitle('{w|Image}{a|→}{w|Text}', 623, 391),
  txt('Language', 1155, 391, TITLE),
  txt('Reducible  Loss', 37, 371, 'bold 35px Roboto, sans-serif', 'center', { rotation: Math.PI / 2 }),
  txt('Compute (PF-days)', 115, 767, 'bold 35px Roboto, sans-serif'),
  txt('Line color denotes model size', 1183, 792, 'italic 300 29px Roboto, sans-serif'),
  { type: 'line', z: 100, silent: true, shape: { x1: 1568, y1: 703, x2: 1568, y2: 765 }, style: { stroke: '#222', lineWidth: 1.5 } },
  { type: 'polyline', z: 100, silent: true, shape: { points: [[1614, 0], [1614, 410], [1621, 414]] }, style: { stroke: '#d4d4d4', lineWidth: 1, fill: null } },
  { type: 'polyline', z: 100, silent: true, shape: { points: [[1621, 707], [1614, 711], [1614, 810]] }, style: { stroke: '#d4d4d4', lineWidth: 1, fill: null } }
];
[
  { box: [119, 269, 194, 44], line: [127, 165, 289.5], lp: 183, cx: 221, by: 290.5, bw: 32, rp: 258, ex: 263, fs: 12.5, num: 'X', den: '1.9e + 03', exp: '−0.19' },
  { box: [657, 266, 217, 47], line: [665, 707, 287], lp: 727, cx: 768, by: 288, bw: 41, rp: 815, ex: 819, fs: 14, num: 'C', den: '1.5 × 10⁻⁶', exp: '−0.15' },
  { box: [1182, 286, 130, 30], line: [1186, 1212, 300], lp: 1221, cx: 1247, by: 301, bw: 24, rp: 1273, ex: 1276, fs: 9, num: 'C', den: '2.2 × 10⁻⁵', exp: '−0.14' },
  { box: [120, 629, 217, 49], line: [128, 168, 652], lp: 191, cx: 235, by: 653, bw: 39, rp: 278, ex: 285, fs: 14, num: 'C', den: '1.4 × 10⁻⁵', exp: '−0.14' },
  { box: [657, 632, 211, 46], line: [665, 705, 653], lp: 724, cx: 767, by: 654, bw: 37, rp: 809, ex: 813, fs: 14, num: 'C', den: '1.5 × 10⁻⁶', exp: '−0.16' }
].forEach(c => elements.push(...fracLegend(c)));

elements.push(
  { type: 'rect', z: 100, silent: true, shape: { x: 1188, y: 635, width: 287, height: 42, r: 4 },
    style: { fill: 'rgba(255,255,255,0.9)', stroke: '#d8d8d8', lineWidth: 1 } },
  { type: 'line', z: 101, silent: true, shape: { x1: 1197, y1: 657, x2: 1247, y2: 657 },
    style: { stroke: '#4b64e4', lineWidth: 1.3, lineDash: [3, 2] } },
  { type: 'text', x: 1268, y: 657, z: 101, silent: true,
    style: {
      text: '{i|L} = 2.57 · {i|C}{s|−0.048}', fontSize: 21, fontFamily: 'DejaVu Sans', fill: '#111',
      verticalAlign: 'middle', lineHeight: 30,
      rich: {
        i: { fontStyle: 'italic', fontSize: 21, fontFamily: 'DejaVu Sans', lineHeight: 30 },
        s: { fontSize: 15, fontFamily: 'DejaVu Sans', verticalAlign: 'top', lineHeight: 16 }
      }
    } }
);

const chart = echarts.init(document.getElementById('chart'), null, { renderer: 'canvas' });
chart.setOption({
  animation: false,
  backgroundColor: '#fff',
  grid: grids,
  xAxis: xAxes,
  yAxis: yAxes,
  series,
  graphic: { elements }
});
</script>
</body>
</html>
